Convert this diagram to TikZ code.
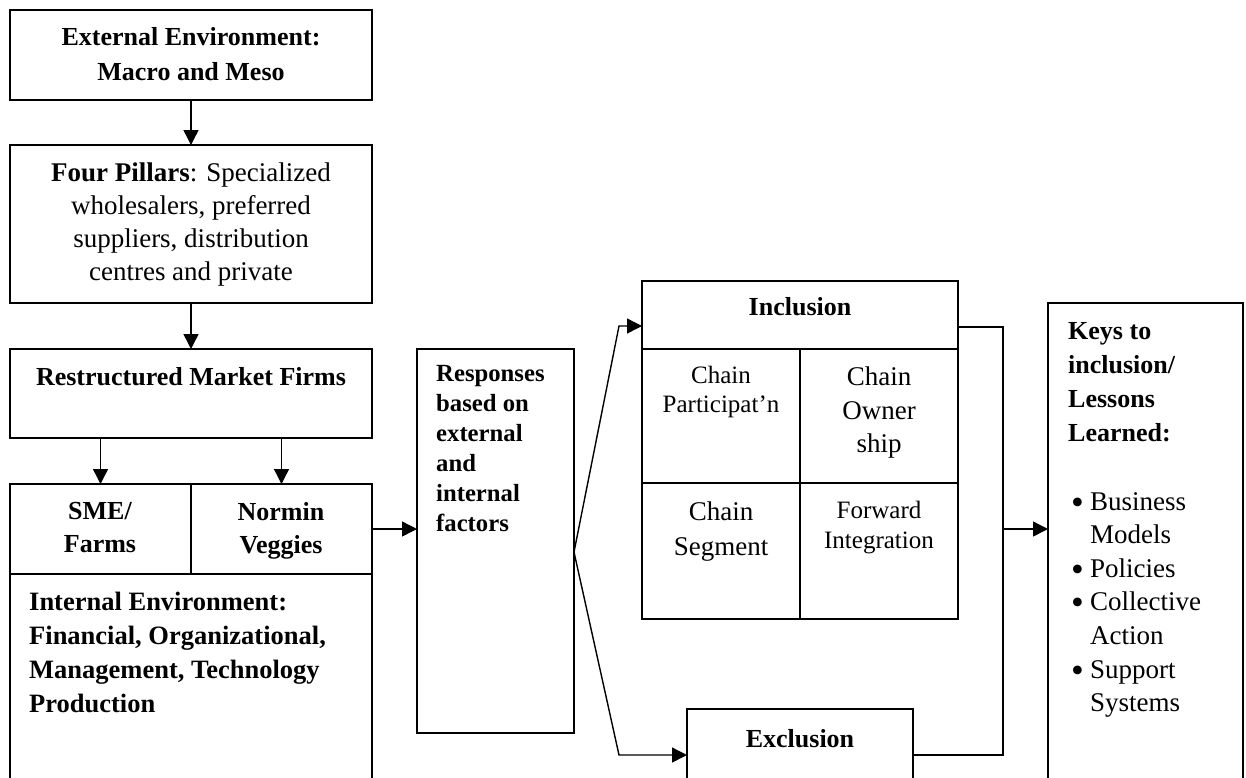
\documentclass[tikz,border=0pt]{standalone}
\usepackage{fontspec}
\usepackage{graphicx}
\setmainfont{Liberation Serif}
\usetikzlibrary{calc, positioning}
\usetikzlibrary{arrows.meta}

\tikzset{
  box/.style={draw, line width=1.4pt, inner sep=0pt, outer sep=0pt, anchor=north west},
  link/.style={line width=1.4pt},
  arr/.style={link, -{Triangle[length=15pt,width=15pt]}},
  hd/.style={font=\fontsize{26}{35}\selectfont\bfseries, align=center, anchor=north, inner sep=0pt},
  body/.style={font=\fontsize{27}{33}\selectfont, align=center, anchor=north, inner sep=0pt},
  cell/.style={font=\fontsize{25}{29}\selectfont, align=center, anchor=north, inner sep=0pt},
  lft/.style={align=left, anchor=north west, inner sep=0pt}
}
\newcommand{\bul}{\makebox[19pt][l]{\raisebox{-4pt}{\scalebox{1.35}{\textbullet}}}}

\begin{document}
\begin{tikzpicture}[x=1pt, y=-1pt]
\path[use as bounding box] (0,0) rectangle (1246,777);
\clip (0,0) rectangle (1246,777);

% Left column
\node[box, minimum width=362pt, minimum height=90pt] (ext) at (10,10) {};
\node[box, minimum width=362pt, minimum height=158pt] (pillars) at (10,145) {};
\node[box, minimum width=362pt, minimum height=89pt] (restr) at (10,349) {};
\node[box, minimum width=181pt, minimum height=90pt] (sme) at (10,484) {};
\node[box, minimum width=181pt, minimum height=90pt] (normin) at (191,484) {};
\node[box, minimum width=362pt, minimum height=216pt] (intern) at (10,574) {};

\node[hd] (extT) at (191,27) {External Environment:\\Macro and Meso};
\node[body] (pillarsT) at (191,163) {\textbf{Four Pillars}: Specialized\\wholesalers, preferred\\suppliers, distribution\\centres and private};
\node[hd] (restrT) at (191,367) {Restructured Market Firms};
\node[hd, font=\fontsize{26}{33}\selectfont\bfseries] (smeT) at (100,502) {SME/\\Farms};
\node[hd, font=\fontsize{26}{33}\selectfont\bfseries] (norminT) at (281,502) {Normin\\Veggies};
\node[lft, font=\fontsize{26.5}{34}\selectfont\bfseries] (internT) at (29,592)
  {Internal Environment:\\Financial, Organizational,\\Management, Technology\\Production};

% Responses
\node[box, minimum width=157pt, minimum height=384pt] (resp) at (417,349) {};
\node[lft, font=\fontsize{24.7}{30}\selectfont\bfseries] (respT) at (436,365)
  {Responses\\based on\\external\\and\\internal\\factors};

% Inclusion block
\node[box, minimum width=316pt, minimum height=68pt] (incl) at (642,281) {};
\node[box, minimum width=158pt, minimum height=134pt] (cPart) at (642,349) {};
\node[box, minimum width=158pt, minimum height=134pt] (cOwn) at (800,349) {};
\node[box, minimum width=158pt, minimum height=136pt] (cSeg) at (642,483) {};
\node[box, minimum width=158pt, minimum height=136pt] (cFwd) at (800,483) {};

\node[hd] (inclT) at (800,297) {Inclusion};
\node[cell] (cPartT) at (721,366) {Chain\\Participat’n};
\node[body, font=\fontsize{27}{33.5}\selectfont] (cOwnT) at (879,367) {Chain\\Owner\\ship};
\node[body, font=\fontsize{27}{35}\selectfont] (cSegT) at (721,502) {Chain\\Segment};
\node[cell, font=\fontsize{25}{30}\selectfont] (cFwdT) at (879,501) {Forward\\Integration};

% Exclusion
\node[box, minimum width=226pt, minimum height=81pt] (excl) at (687,709) {};
\node[hd] (exclT) at (800,729) {Exclusion};

% Keys box
\node[box, minimum width=195pt, minimum height=487pt] (keys) at (1048,303) {};
\node[lft, font=\fontsize{26}{34}\selectfont\bfseries] (keysT) at (1068,322)
  {Keys to\\inclusion/\\Lessons\\Learned:};
\node[lft, font=\fontsize{27}{33.6}\selectfont] (keysL) at (1071,492)
  {\bul Business\\\hspace*{19pt}Models\\\bul Policies\\\bul Collective\\\hspace*{19pt}Action\\\bul Support\\\hspace*{19pt}Systems};

% Connectors
\coordinate (fork) at (574,552);
\coordinate (inA) at (619,326);
\coordinate (exA) at (619,755);
\coordinate (joinT) at (1003,327);
\coordinate (joinM) at (1003,529);
\coordinate (joinB) at (1003,755);

\draw[arr] (ext.south) -- (pillars.north);
\draw[arr] (pillars.south) -- (restr.north);
\draw[arr] (restr.south -| sme.north) -- (sme.north);
\draw[arr] (restr.south -| normin.north) -- (normin.north);
\draw[arr] (normin.east) -- (normin.east -| resp.west);
\draw[arr] (fork) -- (inA) -- (inA -| incl.west);
\draw[arr] (fork) -- (exA) -- (exA -| excl.west);
\draw[link] (joinT -| incl.east) -- (joinT) -- (joinB) -- (joinB -| excl.east);
\draw[arr] (joinM) -- (joinM -| keys.west);
\end{tikzpicture}
\end{document}
